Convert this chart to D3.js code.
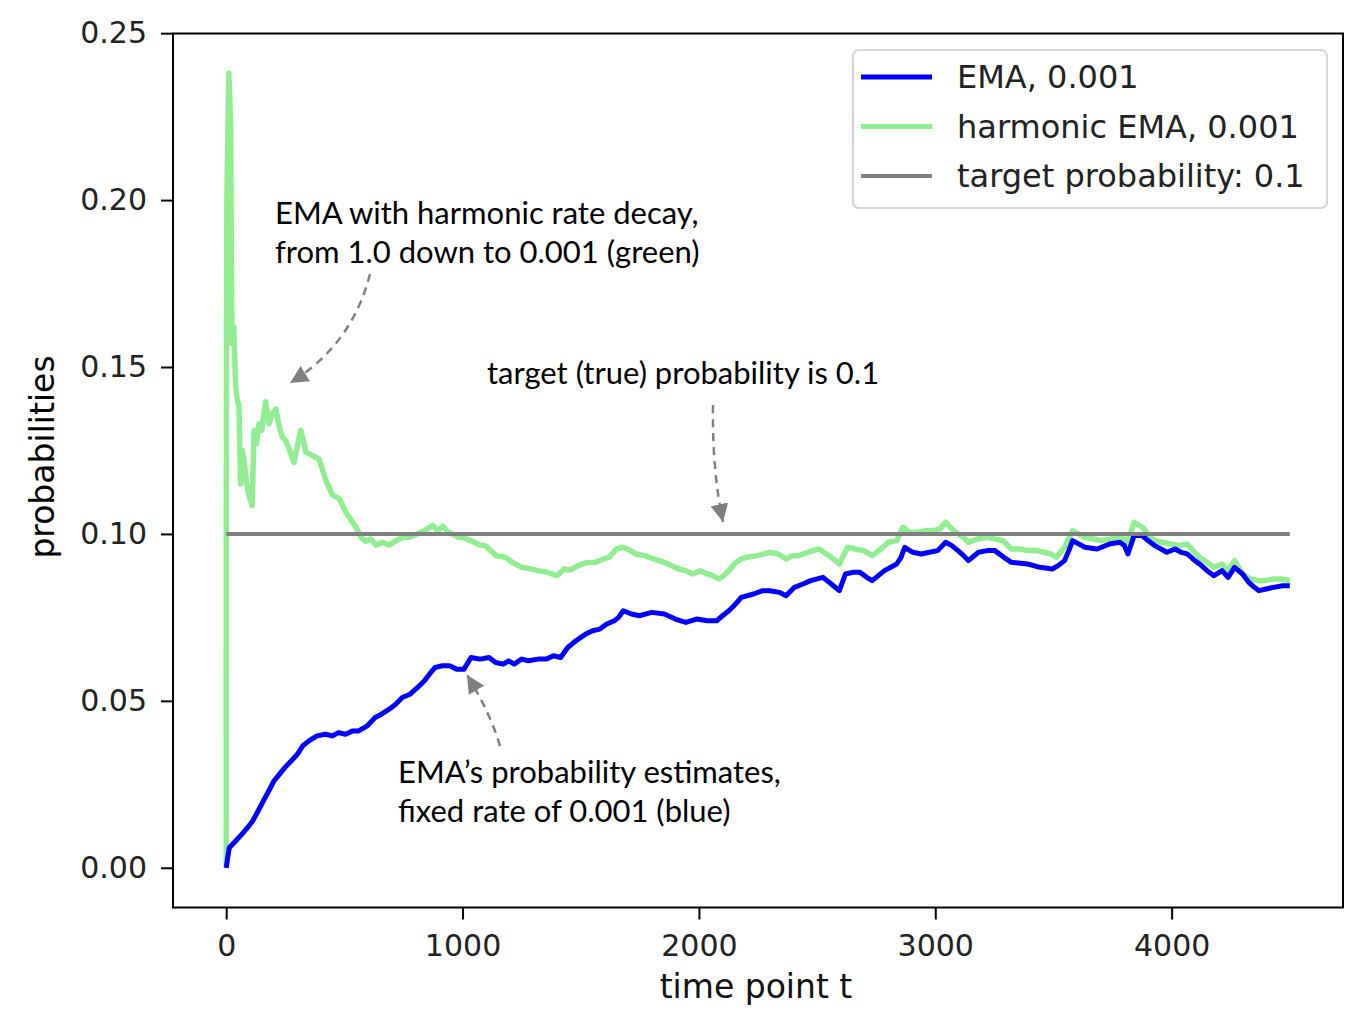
<!DOCTYPE html>
<html>
<head>
<meta charset="utf-8">
<script src="https://cdn.jsdelivr.net/npm/d3@7"></script>
<style>
  body { margin: 0; background: #fff; }
  svg text { font-family: "DejaVu Sans", sans-serif; }
  .note { font-family: Lato, "Open Sans", sans-serif; }
</style>
</head>
<body>
<svg id="chart" width="1360" height="1018"></svg>
<script>
// --- data ---
const emaPoints = [
  [0,0],[13,0.006],[40,0.008],[66,0.010],[90,0.012],[112,0.014],[135,0.017],[157,0.020],[180,0.023],[202,0.026],
  [225,0.028],[248,0.030],[275,0.032],[301,0.034],[324,0.0365],[350,0.038],[384,0.0395],[420,0.040],[450,0.0395],[475,0.0405],
  [505,0.040],[536,0.041],[560,0.041],[597,0.0425],[630,0.045],[657,0.046],[690,0.0475],[717,0.049],[745,0.051],[778,0.052],
  [810,0.054],[839,0.056],[860,0.058],[884,0.060],[915,0.0605],[945,0.0605],[975,0.0595],[1006,0.0595],[1036,0.063],[1075,0.0625],
  [1112,0.063],[1140,0.0615],[1172,0.061],[1195,0.062],[1218,0.061],[1250,0.0625],[1278,0.062],[1320,0.0625],[1354,0.0625],[1385,0.0635],
  [1415,0.063],[1445,0.066],[1480,0.068],[1521,0.070],[1550,0.071],[1581,0.0715],[1610,0.073],[1642,0.074],[1660,0.075],[1680,0.077],
  [1715,0.076],[1748,0.0755],[1800,0.0765],[1854,0.076],[1900,0.0745],[1945,0.0735],[1990,0.0745],[2036,0.074],[2075,0.074],[2100,0.0755],
  [2127,0.077],[2155,0.079],[2179,0.081],[2231,0.082],[2270,0.083],[2300,0.083],[2340,0.0825],[2369,0.0815],[2404,0.084],[2440,0.085],
  [2473,0.086],[2525,0.087],[2560,0.085],[2594,0.083],[2620,0.088],[2650,0.0885],[2681,0.0885],[2710,0.087],[2733,0.086],[2785,0.089],
  [2837,0.091],[2855,0.093],[2871,0.096],[2905,0.0945],[2941,0.094],[2975,0.0945],[3010,0.095],[3044,0.0975],[3070,0.0965],[3096,0.095],
  [3120,0.0935],[3140,0.092],[3183,0.0945],[3220,0.095],[3252,0.095],[3290,0.093],[3322,0.0915],[3391,0.091],[3443,0.090],[3495,0.0895],
  [3520,0.0905],[3547,0.092],[3565,0.095],[3581,0.098],[3633,0.096],[3685,0.0955],[3737,0.097],[3781,0.0975],[3800,0.0965],[3815,0.094],
  [3841,0.0995],[3876,0.0995],[3900,0.098],[3928,0.0965],[3955,0.0955],[3980,0.0945],[4014,0.0955],[4040,0.0945],[4066,0.094],[4090,0.0925],
  [4118,0.091],[4150,0.089],[4179,0.0875],[4213,0.089],[4239,0.087],[4266,0.090],[4300,0.088],[4326,0.0855],[4350,0.084],[4369,0.083],
  [4400,0.0835],[4430,0.084],[4470,0.0845],[4500,0.0845]
];

const harmonicPoints = [
  [0,0],[1,0.155],[3,0.20],[6,0.214],[11,0.238],[15,0.23],[19,0.222],[22,0.18],[25,0.157],[32,0.162],
  [40,0.144],[47,0.14],[54,0.1385],[61,0.115],[68,0.125],[75,0.1224],[85,0.116],[96,0.1117],[110,0.1085],[118,0.131],
  [128,0.127],[139,0.133],[150,0.131],[167,0.1396],[181,0.133],[195,0.136],[210,0.1374],[225,0.132],[238,0.129],[252,0.128],
  [266,0.1256],[287,0.1214],[300,0.126],[316,0.131],[337,0.1246],[365,0.1235],[393,0.1224],[422,0.116],[450,0.1117],[478,0.1106],
  [507,0.1064],[530,0.104],[549,0.102],[570,0.099],[591,0.0978],[612,0.0985],[634,0.0967],[660,0.0975],[690,0.0967],[720,0.098],
  [747,0.0989],[775,0.099],[804,0.0999],[840,0.101],[874,0.1026],[895,0.101],[917,0.1023],[940,0.1005],[959,0.0999],[980,0.099],
  [1001,0.0989],[1036,0.098],[1072,0.0967],[1096,0.0965],[1120,0.095],[1143,0.0935],[1180,0.093],[1213,0.0914],[1250,0.090],[1284,0.0896],
  [1320,0.089],[1355,0.0886],[1399,0.0875],[1430,0.0895],[1454,0.0892],[1490,0.0905],[1525,0.0914],[1560,0.0915],[1597,0.0925],[1620,0.093],
  [1652,0.0955],[1680,0.096],[1710,0.095],[1733,0.094],[1770,0.0935],[1809,0.0925],[1854,0.0915],[1885,0.0905],[1915,0.0895],[1945,0.089],
  [1975,0.088],[2006,0.089],[2036,0.088],[2060,0.0875],[2084,0.0865],[2105,0.0875],[2127,0.089],[2157,0.0915],[2179,0.0925],[2203,0.093],
  [2248,0.0935],[2300,0.0945],[2335,0.094],[2369,0.0925],[2395,0.0935],[2421,0.0935],[2460,0.0945],[2508,0.0955],[2550,0.0935],[2594,0.091],
  [2629,0.096],[2660,0.0955],[2698,0.095],[2733,0.0935],[2770,0.0955],[2802,0.0975],[2837,0.098],[2863,0.102],[2890,0.1005],[2923,0.1005],
  [2960,0.101],[2992,0.101],[3020,0.1015],[3044,0.1035],[3070,0.1015],[3096,0.100],[3120,0.099],[3140,0.0975],[3180,0.0985],[3218,0.099],
  [3250,0.0985],[3287,0.098],[3322,0.0955],[3360,0.0955],[3391,0.095],[3430,0.095],[3460,0.0945],[3490,0.094],[3512,0.093],[3547,0.096],
  [3581,0.101],[3633,0.099],[3670,0.0985],[3703,0.098],[3740,0.0985],[3772,0.099],[3800,0.0985],[3815,0.0975],[3841,0.1035],[3876,0.102],
  [3900,0.1],[3928,0.098],[3960,0.0975],[3997,0.097],[4030,0.0965],[4066,0.097],[4090,0.095],[4118,0.093],[4150,0.0915],[4179,0.090],
  [4213,0.091],[4239,0.089],[4266,0.092],[4300,0.088],[4335,0.0865],[4365,0.086],[4395,0.086],[4430,0.0865],[4465,0.0865],[4500,0.086]
];

const targetProb = 0.1;
const tRange = [0, 4500];
const xTicks = [0, 1000, 2000, 3000, 4000];
const yTicks = [0, 0.05, 0.10, 0.15, 0.20, 0.25];
const legendLabels = ['EMA, 0.001', 'harmonic EMA, 0.001', 'target probability: 0.1'];
const colors = ['#0000ff', '#90ee90', '#808080'];

// --- layout ---
const svg = d3.select('#chart');
const plotLeft = 173, plotRight = 1343, plotTop = 33.5, plotBottom = 907.5;

const x = d3.scaleLinear().domain([-225, 4725]).range([plotLeft, plotRight]);
const y = d3.scaleLinear().domain([-0.0119, 0.2499]).range([plotBottom, plotTop]);

const line = d3.line().x(d => x(d[0])).y(d => y(d[1]));

const plot = svg.append('g');

// green first, blue over it, then the target line
plot.append('path').datum(harmonicPoints)
    .attr('d', line).attr('fill', 'none')
    .attr('stroke', colors[1]).attr('stroke-width', 5.5).attr('stroke-linejoin', 'round');

plot.append('path').datum(emaPoints)
    .attr('d', line).attr('fill', 'none')
    .attr('stroke', colors[0]).attr('stroke-width', 5).attr('stroke-linejoin', 'round');

plot.append('path').datum(tRange.map(t => [t, targetProb]))
    .attr('d', line).attr('fill', 'none')
    .attr('stroke', colors[2]).attr('stroke-width', 4);

// axes
const xAxis = svg.append('g').attr('transform', `translate(0,${plotBottom})`)
    .call(d3.axisBottom(x).tickValues(xTicks).tickFormat(d3.format('d')).tickSize(12).tickPadding(15));
const yAxis = svg.append('g').attr('transform', `translate(${plotLeft},0)`)
    .call(d3.axisLeft(y).tickValues(yTicks).tickFormat(d3.format('.2f')).tickSize(12).tickPadding(14));

[xAxis, yAxis].forEach(g => {
    g.select('.domain').remove();
    g.selectAll('line').attr('stroke', '#000').attr('stroke-width', 2);
    g.selectAll('text').attr('fill', '#222').style('font-size', '30px');
});

// frame
svg.append('rect')
    .attr('x', plotLeft).attr('y', plotTop)
    .attr('width', plotRight - plotLeft).attr('height', plotBottom - plotTop)
    .attr('fill', 'none').attr('stroke', '#000').attr('stroke-width', 2);

svg.append('text')
    .attr('x', (plotLeft + plotRight) / 2 - 2).attr('y', 998)
    .attr('text-anchor', 'middle').style('font-size', '33px').attr('fill', '#111')
    .text('time point t');

svg.append('text')
    .attr('transform', 'translate(54,457) rotate(-90)')
    .attr('text-anchor', 'middle').style('font-size', '33px').attr('fill', '#000')
    .text('probabilities');

// legend
const legend = svg.append('g');
legend.append('rect')
    .attr('x', 853).attr('y', 50).attr('width', 474).attr('height', 158)
    .attr('rx', 6).attr('fill', 'rgba(255,255,255,0.8)')
    .attr('stroke', '#d4d4d4').attr('stroke-width', 2);

legendLabels.forEach((label, i) => {
    const ly = 77 + i * 49.5;
    legend.append('line')
        .attr('x1', 861).attr('x2', 932).attr('y1', ly).attr('y2', ly)
        .attr('stroke', colors[i]).attr('stroke-width', i === 2 ? 4 : 5);
    legend.append('text')
        .attr('x', 957).attr('y', ly + 11)
        .style('font-size', '32px').attr('fill', '#222')
        .text(label);
});

// annotations
svg.append('defs').append('marker')
    .attr('id', 'head').attr('viewBox', '0 0 10 10')
    .attr('refX', 10).attr('refY', 5)
    .attr('markerWidth', 18).attr('markerHeight', 18)
    .attr('markerUnits', 'userSpaceOnUse')
    .attr('orient', 'auto')
    .append('path').attr('d', 'M0,0 L10,5 L0,10 z').attr('fill', '#808080');

const notes = [
    { lines: ['EMA with harmonic rate decay,', 'from 1.0 down to 0.001 (green)'], x: 275, y: 224,
      arrow: [[370, 274], [352, 345], [290, 383]] },
    { lines: ['target (true) probability is 0.1'], x: 487, y: 384,
      arrow: [[713, 405], [712, 470], [723, 522]] },
    { lines: ['EMA\u2019s probability estimates,', 'fixed rate of 0.001 (blue)'], x: 398, y: 783,
      arrow: [[500, 746], [490, 712], [467, 675]] }
];

notes.forEach(n => {
    const t = svg.append('text').attr('class', 'note')
        .attr('x', n.x).attr('y', n.y)
        .style('font-size', '31px').attr('fill', '#000');
    n.lines.forEach((s, i) => {
        t.append('tspan').attr('x', n.x).attr('dy', i === 0 ? 0 : 39).text(s);
    });
    const [p0, c, p1] = n.arrow;
    const path = d3.path();
    path.moveTo(p0[0], p0[1]);
    path.quadraticCurveTo(c[0], c[1], p1[0], p1[1]);
    svg.append('path').attr('d', path.toString())
        .attr('fill', 'none').attr('stroke', '#808080')
        .attr('stroke-width', 2.5).attr('stroke-dasharray', '8,6')
        .attr('marker-end', 'url(#head)');
});
</script>
</body>
</html>
